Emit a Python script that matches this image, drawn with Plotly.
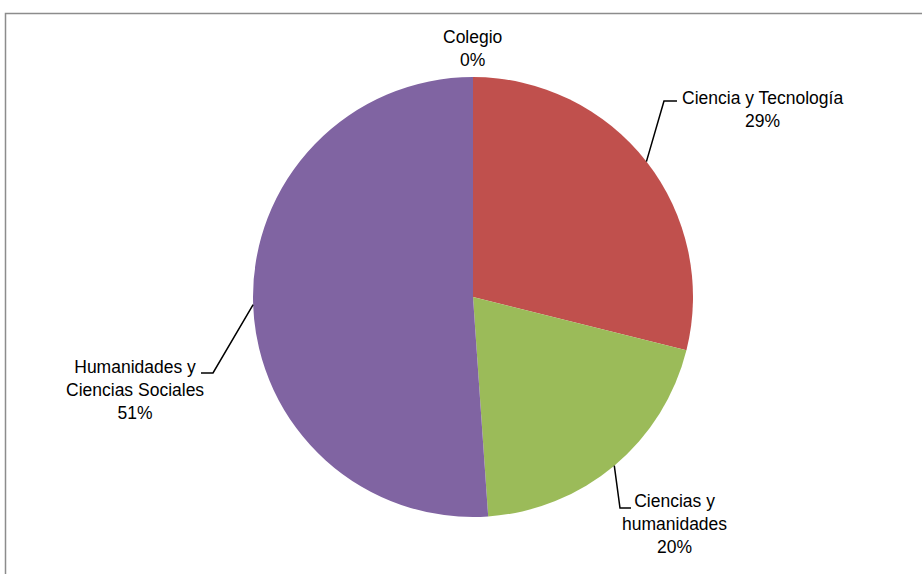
import math
import plotly.graph_objects as go

# Distribution by area (percent of total)
areas = ["Colegio", "Ciencia y Tecnología", "Ciencias y humanidades",
         "Humanidades y Ciencias Sociales"]
shares = [0.0, 28.9, 20.0, 51.1]
label_lines = [["Colegio"], ["Ciencia y Tecnología"], ["Ciencias y", "humanidades"],
               ["Humanidades y", "Ciencias Sociales"]]
colors = ["#4F81BD", "#C0504D", "#9BBB59", "#8064A2"]

W, H = 922, 574
CX, CY, R = 473, 297, 220  # pie centre / radius in pixels


def px(x, y):
    return x / W, 1 - y / H


total = sum(shares)
pct = [round(v / total * 100) for v in shares]

fig = go.Figure(go.Pie(
    labels=areas, values=shares, sort=False, direction="clockwise", rotation=0,
    marker=dict(colors=colors, line=dict(width=0)),
    textinfo="none", hoverinfo="label+percent", showlegend=False,
    domain=dict(x=[(CX - R) / W, (CX + R) / W], y=[(H - CY - R) / H, (H - CY + R) / H]),
))

# label centre (px) and leader elbow/end (px) for each slice; None = no leader
label_pos = [(472, 49), (762, 109), (674, 524), (135, 390)]
leaders = [None, [(664, 101), (677, 101)], [(620, 508), (631, 508)],
           [(213, 373), (201, 373)]]

shapes = []
annotations = []
cum = 0.0
for i, v in enumerate(shares):
    mid = (cum + v / 2) / total * 2 * math.pi
    cum += v
    lines = label_lines[i] + [f"{pct[i]}%"]
    lx, ly = label_pos[i]
    ax, ay = px(lx, ly)
    annotations.append(dict(
        x=ax, y=ay, xref="paper", yref="paper", showarrow=False,
        text="<br>".join(lines), align="center", xanchor="center", yanchor="middle",
        font=dict(family="Liberation Sans Narrow, Arial Narrow, Liberation Sans, sans-serif",
                  size=17.5, color="#000000"),
    ))
    if leaders[i]:
        sx = CX + R * math.sin(mid)
        sy = CY - R * math.cos(mid)
        pts = [(sx, sy)] + leaders[i]
        path = "M " + " L ".join(f"{p[0] / W:.5f},{1 - p[1] / H:.5f}" for p in pts)
        shapes.append(dict(type="path", xref="paper", yref="paper", path=path,
                           line=dict(color="#000000", width=1.5)))

# outer frame
shapes.append(dict(type="rect", xref="paper", yref="paper",
                   x0=5.5 / W, y0=-0.05, x1=1.05, y1=1 - 13.5 / H,
                   line=dict(color="#8c8c8c", width=1.5), fillcolor="rgba(0,0,0,0)"))

fig.update_layout(
    width=W, height=H, margin=dict(l=0, r=0, t=0, b=0),
    paper_bgcolor="#ffffff", plot_bgcolor="#ffffff",
    shapes=shapes, annotations=annotations,
)

fig.write_html("out.html")
